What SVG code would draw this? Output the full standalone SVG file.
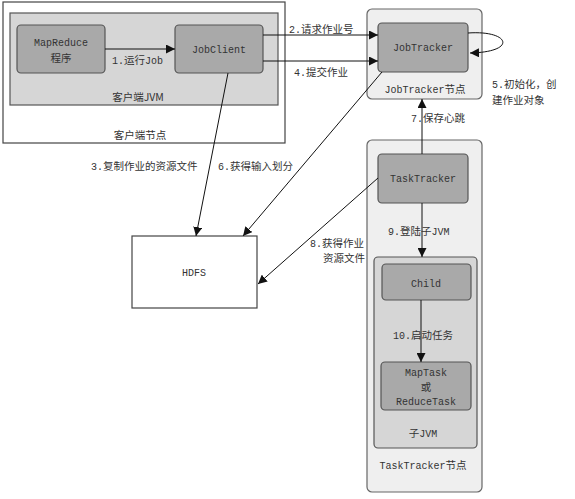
<svg xmlns="http://www.w3.org/2000/svg" width="575" height="499" viewBox="0 0 575 499">
<defs>
<marker id="ah" viewBox="0 0 10 10" refX="10" refY="5" markerWidth="9" markerHeight="9" markerUnits="userSpaceOnUse" orient="auto">
<path d="M0,0 L10,5 L0,10 z" fill="#111"/>
</marker>
</defs>
<style>
text{font-family:"Liberation Mono","Noto Sans CJK SC",monospace;font-size:10px;fill:#333}
.c{font-family:"Noto Sans CJK SC",sans-serif;font-size:10.5px}
.m{text-anchor:middle}
.outer{fill:#efefef;stroke:#666;stroke-width:1.2}
.jvm{fill:#d6d6d6;stroke:#555;stroke-width:1.2}
.box{fill:#a9a9a9;stroke:#555;stroke-width:1.2}
.plain{fill:#fff;stroke:#444;stroke-width:1.2}
.e{fill:none;stroke:#111;stroke-width:1;marker-end:url(#ah)}
</style>
<rect width="575" height="499" fill="#fff"/>
<g id="client-node">
<rect class="plain" x="3" y="2" width="282" height="141"/>
<text class="m" x="140" y="139"><tspan class="c">客户端节点</tspan></text>
</g>
<g id="client-jvm">
<rect class="jvm" x="10" y="13" width="268" height="92"/>
<text class="m" x="138" y="101"><tspan class="c">客户端JVM</tspan></text>
</g>
<g id="mapreduce">
<rect class="box" x="17" y="25" width="88" height="48" rx="4"/>
<text class="m" x="61" y="46">MapReduce</text>
<text class="m" x="61" y="62"><tspan class="c">程序</tspan></text>
</g>
<g id="jobclient">
<rect class="box" x="175" y="25" width="88" height="48" rx="4"/>
<text class="m" x="219" y="53">JobClient</text>
</g>
<g id="jobtracker-node">
<rect class="outer" x="367" y="9" width="115" height="90" rx="5"/>
<text class="m" x="425" y="93">JobTracker<tspan class="c">节点</tspan></text>
</g>
<g id="jobtracker">
<rect class="box" x="378" y="23" width="90" height="49" rx="4"/>
<text class="m" x="423" y="51">JobTracker</text>
</g>
<g id="hdfs">
<rect class="plain" x="132" y="236" width="125" height="72"/>
<text class="m" x="194" y="276">HDFS</text>
</g>
<g id="tasktracker-node">
<rect class="outer" x="367" y="140" width="115" height="352" rx="5"/>
<text class="m" x="423" y="469">TaskTracker<tspan class="c">节点</tspan></text>
</g>
<g id="tasktracker">
<rect class="box" x="378" y="154" width="90" height="49" rx="4"/>
<text class="m" x="423" y="182">TaskTracker</text>
</g>
<g id="child-jvm">
<rect class="jvm" x="374" y="257" width="103" height="191" rx="4"/>
<text class="m" x="423" y="437"><tspan class="c">子</tspan>JVM</text>
</g>
<g id="child">
<rect class="box" x="382" y="264" width="89" height="36" rx="4"/>
<text class="m" x="426" y="287">Child</text>
</g>
<g id="task">
<rect class="box" x="381" y="362" width="90" height="48" rx="4"/>
<text class="m" x="426" y="376">MapTask</text>
<text class="m" x="426" y="391"><tspan class="c">或</tspan></text>
<text class="m" x="426" y="405">ReduceTask</text>
</g>
<g id="connectors">
<line class="e" x1="105" y1="49" x2="175" y2="49"/>
<line class="e" x1="263" y1="35" x2="378" y2="35"/>
<line class="e" x1="263" y1="61" x2="378" y2="61"/>
<path class="e" d="M468,33 C510,30 518,52 470,53"/>
<line class="e" x1="228" y1="73" x2="196" y2="236"/>
<line class="e" x1="382" y1="72" x2="243" y2="236"/>
<line class="e" x1="422" y1="154" x2="422" y2="99"/>
<line class="e" x1="378" y1="178" x2="258" y2="284"/>
<line class="e" x1="422" y1="203" x2="422" y2="257"/>
<line class="e" x1="421" y1="300" x2="421" y2="362"/>
</g>
<g id="labels">
<text x="112" y="64">1.<tspan class="c">运行</tspan>Job</text>
<text x="289" y="33">2.<tspan class="c">请求作业号</tspan></text>
<text x="294" y="76">4.<tspan class="c">提交作业</tspan></text>
<text x="492" y="88">5.<tspan class="c">初始化，创</tspan></text>
<text x="492" y="104"><tspan class="c">建作业对象</tspan></text>
<text x="411" y="122">7.<tspan class="c">保存心跳</tspan></text>
<text x="91" y="170">3.<tspan class="c">复制作业的资源文件</tspan></text>
<text x="218" y="170">6.<tspan class="c">获得输入划分</tspan></text>
<text x="310" y="247">8.<tspan class="c">获得作业</tspan></text>
<text x="323" y="262"><tspan class="c">资源文件</tspan></text>
<text x="388" y="235">9.<tspan class="c">登陆子</tspan>JVM</text>
<text x="393" y="339">10.<tspan class="c">启动任务</tspan></text>
</g>
</svg>
